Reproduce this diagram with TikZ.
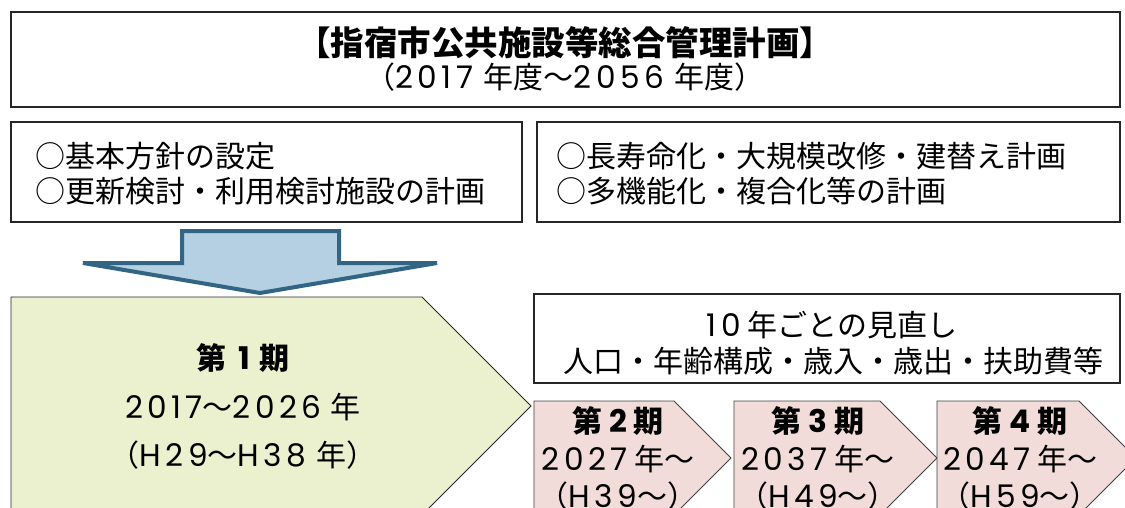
\documentclass[tikz,border=0pt]{standalone}
\usepackage{fontspec}
\setmainfont{Noto Sans CJK JP}
\newfontfamily\latin{Poppins}[Scale=1.04,LetterSpace=14]
\newcommand{\dg}[1]{{\latin #1}}
\usetikzlibrary{positioning}
\definecolor{PhaseGreen}{RGB}{235,241,206}
\definecolor{PhasePink}{RGB}{242,220,217}
\definecolor{ArrowBlue}{RGB}{180,208,226}
\definecolor{ArrowEdge}{RGB}{50,100,132}
\tikzset{
  box/.style={draw=black!85,line width=1.3pt,fill=white,inner sep=0pt},
  txt/.style={inner sep=0pt,align=center,font=\fontsize{30}{35}\selectfont},
  head/.style={inner sep=0pt,font=\bfseries\fontsize{30}{35}\selectfont},
  phasefirst/.style={draw=black!85,line width=0.9pt,fill=PhaseGreen,line join=miter},
  phasenext/.style={draw=black!75,line width=0.9pt,fill=PhasePink,line join=miter},
  downarrow/.style={draw=ArrowEdge,fill=ArrowBlue,line width=4pt,line join=miter},
}

\begin{document}
\begin{tikzpicture}[x=1pt,y=-1pt]
\useasboundingbox (0,0) rectangle (1125,508);
\clip (0,0) rectangle (1125,508);
\fill[white] (0,0) rectangle (1125,508);
% plan title
\node[box,minimum width=1109pt,minimum height=95pt] (plan) at (565.5,59.5) {};
\node[head,font=\bfseries\fontsize{33.5}{33.5}\selectfont] (planname) at (565,43) {【指宿市公共施設等総合管理計画】};
\node[txt] (planterm) at (565,77) {（\dg{2017}\hspace{4pt} 年度～\dg{2056}\hspace{4pt} 年度）};
% contents
\node[box,minimum width=511pt,minimum height=100pt] (basic) at (266.5,172) {};
\node[txt,align=left,anchor=west] (basictext) at (35,174) {○基本方針の設定\\○更新検討・利用検討施設の計画};
\node[box,minimum width=583pt,minimum height=100pt] (extra) at (828.5,172) {};
\node[txt,align=left,anchor=west] (extratext) at (556,174) {○長寿命化・大規模改修・建替え計画\\○多機能化・複合化等の計画};
% arrow
\draw[downarrow] (182,231) -- (339,231) -- (339,263) -- (437,263) -- (260,293) -- (83,263) -- (182,263) -- cycle;
% phase 1
\draw[phasefirst] (11,297) -- (422,297) -- (531,406) -- (422,515) -- (11,515) -- cycle;
\node[head] (p1) at (243,358) {第\hspace{5pt} \dg{1}\hspace{3pt} 期};
\node[txt] (p1years) at (243,407) {\dg{2017}～\dg{2026}\hspace{3pt} 年};
\node[txt] (p1era) at (243,455) {（\dg{H29}～\dg{H38}\hspace{3pt} 年）};
% review
\node[box,minimum width=586pt,minimum height=89pt] (review) at (827,338.5) {};
\node[txt] (reviewtitle) at (832,325) {\dg{10} 年ごとの見直し};
\node[txt] (reviewitems) at (833,361) {人口・年齢構成・歳入・歳出・扶助費等};
% phase 2
\draw[phasenext] (534,401) -- (674,401) -- (731,458) -- (674,515) -- (534,515) -- cycle;
\node[head] (p2) at (618,421) {第 \dg{2} 期};
\node[txt] (p2years) at (618,459) {\dg{2027} 年～};
\node[txt] (p2era) at (618,496) {（\dg{H39}～）};
% phase 3
\draw[phasenext] (734,401) -- (880,401) -- (937,458) -- (880,515) -- (734,515) -- cycle;
\node[head] (p3) at (818,421) {第 \dg{3} 期};
\node[txt] (p3years) at (818,459) {\dg{2037} 年～};
\node[txt] (p3era) at (818,496) {（\dg{H49}～）};
% phase 4
\draw[phasenext] (937,401) -- (1079,401) -- (1136,458) -- (1079,515) -- (937,515) -- cycle;
\node[head] (p4) at (1020,421) {第 \dg{4} 期};
\node[txt] (p4years) at (1020,459) {\dg{2047} 年～};
\node[txt] (p4era) at (1020,496) {（\dg{H59}～）};
\end{tikzpicture}
\end{document}
